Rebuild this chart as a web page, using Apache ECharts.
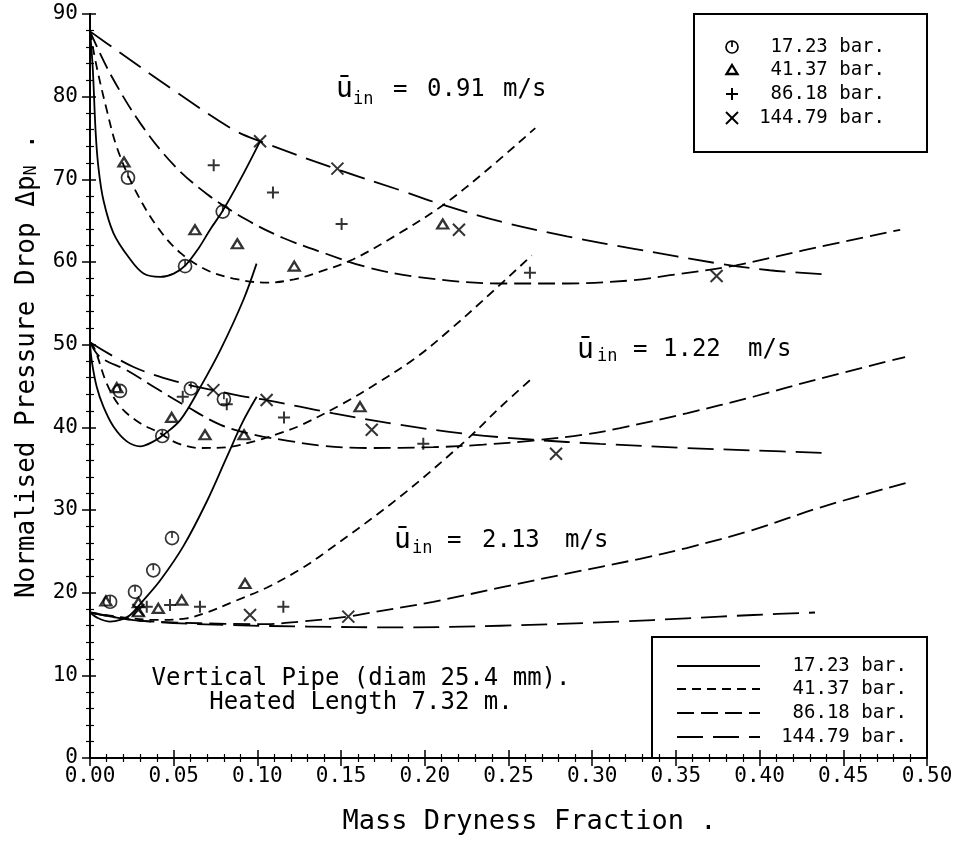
<!DOCTYPE html>
<html>
<head>
<meta charset="utf-8">
<script src="https://cdn.jsdelivr.net/npm/echarts@6/dist/echarts.min.js"></script>
<style>
  html, body { margin: 0; padding: 0; background: #fff; }
  #chart { width: 962px; height: 846px; }
</style>
</head>
<body>
<div id="chart"></div>
<script>
// Normalised pressure drop against mass dryness fraction, vertical pipe.
const pressures = ['17.23 bar.', '41.37 bar.', '86.18 bar.', '144.79 bar.'];
const inletVelocities = ['0.91', '1.22', '2.13'];

// Calculated curves, inlet velocity 0.91 m/s: [dryness, pressure drop]
const calc17_u091 = [[0,87.9],[0.0016,83.6],[0.0034,75.6],[0.005,71.5],[0.008,67.5],[0.014,63.5],[0.023,60.6],[0.032,58.6],[0.042,58.2],[0.050,58.6],[0.057,59.6],[0.065,61.7],[0.072,64.0],[0.079,66.1],[0.0896,69.9],[0.1016,74.6]];
const calc41_u091 = [[0,87.9],[0.004,83.6],[0.010,78.4],[0.016,73.9],[0.026,69.1],[0.040,64.3],[0.054,61.1],[0.070,59.0],[0.0857,58.0],[0.1055,57.5],[0.122,57.9],[0.137,58.8],[0.157,60.3],[0.185,63.5],[0.211,66.9],[0.237,71.1],[0.266,76.2]];
const calc86_u091 = [[0,87.9],[0.012,82.8],[0.030,76.8],[0.0497,71.8],[0.070,68.2],[0.0936,65.1],[0.1155,62.9],[0.141,61.0],[0.165,59.4],[0.195,58.2],[0.245,57.4],[0.285,57.4],[0.325,57.8],[0.3465,58.4],[0.386,59.6],[0.426,61.4],[0.484,63.9]];
const calc144_u091 = [[0,87.9],[0.016,85.6],[0.0498,80.8],[0.0857,76.0],[0.1016,74.6],[0.1478,71.2],[0.185,68.7],[0.211,66.9],[0.245,64.9],[0.285,63.1],[0.325,61.6],[0.376,59.8],[0.406,59.0],[0.439,58.5]];

// Calculated curves, inlet velocity 1.22 m/s
const calc17_u122 = [[0,50.3],[0.001,48.1],[0.004,44.9],[0.008,42.5],[0.014,40.1],[0.022,38.3],[0.030,37.7],[0.038,38.3],[0.044,39.1],[0.054,40.9],[0.066,44.9],[0.078,49.4],[0.0916,55.4],[0.0995,59.8]];
const calc41_u122 = [[0,50.3],[0.003,49.4],[0.010,45.3],[0.018,42.5],[0.030,40.5],[0.040,39.5],[0.052,38.1],[0.066,37.5],[0.082,37.6],[0.098,38.3],[0.1135,39.3],[0.1254,40.2],[0.1513,42.9],[0.1713,45.3],[0.1952,48.5],[0.215,51.8],[0.235,55.4],[0.2639,60.8]];
const calc86_u122 = [[0,50.3],[0.006,48.5],[0.022,46.9],[0.038,44.9],[0.058,42.5],[0.078,40.3],[0.098,39.1],[0.1175,38.4],[0.1374,37.8],[0.1653,37.5],[0.2051,37.6],[0.235,37.9],[0.2648,38.4],[0.2947,39.1],[0.3166,39.9],[0.3564,41.7],[0.3962,43.7],[0.4361,45.9],[0.4869,48.5]];
const calc144_u122 = [[0,50.3],[0.026,47.3],[0.0557,45.3],[0.0737,44.5],[0.0896,43.8],[0.1055,43.3],[0.1254,42.5],[0.1454,41.7],[0.1852,40.3],[0.225,39.2],[0.2648,38.5],[0.3047,38.0],[0.3564,37.5],[0.3962,37.2],[0.44,36.9]];

// Calculated curves, inlet velocity 2.13 m/s
const calc17_u213 = [[0,17.6],[0.005,16.9],[0.012,16.5],[0.018,16.7],[0.024,17.3],[0.032,19.1],[0.042,21.5],[0.0557,25.6],[0.0697,31.0],[0.0817,36.4],[0.0916,40.8],[0.0996,43.7]];
const calc41_u213 = [[0,17.6],[0.02,17.0],[0.04,16.7],[0.0578,16.9],[0.0697,17.6],[0.0856,18.9],[0.1055,20.6],[0.1254,22.8],[0.1414,25.0],[0.1852,31.6],[0.225,38.5],[0.2449,42.4],[0.2639,45.9]];
const calc86_u213 = [[0,17.6],[0.026,16.7],[0.066,16.3],[0.1055,16.2],[0.1254,16.5],[0.1543,17.1],[0.1653,17.5],[0.2051,18.9],[0.2449,20.6],[0.2848,22.3],[0.3286,24.1],[0.3564,25.4],[0.3962,27.6],[0.4361,30.3],[0.4879,33.3]];
const calc144_u213 = [[0,17.6],[0.03,16.6],[0.08,16.1],[0.13,15.9],[0.185,15.8],[0.245,16.0],[0.3166,16.5],[0.3564,16.9],[0.3962,17.3],[0.4331,17.6]];

// Measured points per pressure, all three inlet velocities
const meas17 = [[0.0227,70.2],[0.0568,59.5],[0.0793,66.1],
                [0.0179,44.4],[0.0432,38.95],[0.0603,44.7],[0.080,43.4],
                [0.012,18.9],[0.0269,20.1],[0.0378,22.7],[0.049,26.6]];
const meas41 = [[0.0203,72.1],[0.0627,63.9],[0.088,62.2],[0.122,59.5],[0.2107,64.6],
                [0.016,44.8],[0.0488,41.2],[0.0687,39.1],[0.092,39.1],[0.1613,42.5],
                [0.0095,19.0],[0.0289,18.8],[0.0289,17.7],[0.0408,18.1],[0.0548,19.1],[0.0926,21.1]];
const meas86 = [[0.0739,71.7],[0.1093,68.4],[0.1503,64.6],[0.2628,58.7],
                [0.0554,43.7],[0.0817,42.8],[0.1159,41.2],[0.1991,38.0],
                [0.0339,18.3],[0.0478,18.5],[0.0657,18.3],[0.1155,18.3]];
const meas144 = [[0.1016,74.6],[0.1478,71.3],[0.2204,63.9],[0.3743,58.3],
                 [0.0737,44.5],[0.1055,43.3],[0.1683,39.7],[0.2784,36.8],
                 [0.0289,17.9],[0.0956,17.3],[0.1543,17.1]];

const FONT = '"DejaVu Sans Mono", monospace';
const INK = '#000';

const curvesByPressure = [
  [calc17_u091, calc17_u122, calc17_u213],
  [calc41_u091, calc41_u122, calc41_u213],
  [calc86_u091, calc86_u122, calc86_u213],
  [calc144_u091, calc144_u122, calc144_u213]
];
const measuredByPressure = [meas17, meas41, meas86, meas144];

const dashPatterns = ['solid', [9, 6], [17, 7], [26, 10]];
const markerSymbols = [
  'path://M10,0 A10,10 0 1 1 10,20 A10,10 0 1 1 10,0 Z M10,0 L10,10',
  'path://M10,0 L20,16 L0,16 Z',
  'path://M10,0 L10,20 M0,10 L20,10',
  'path://M0,0 L20,20 M0,20 L20,0'
];
const markerSizes = [[13, 13], [11, 9], [12, 12], [12, 12]];
const markerWidths = [1.7, 2.3, 2, 2];

const series = [];
curvesByPressure.forEach((group, p) => {
  group.forEach((curve, v) => {
    series.push({
      type: 'line',
      name: pressures[p] + ' / ' + inletVelocities[v] + ' m/s',
      data: curve,
      showSymbol: false,
      smooth: 0.35,
      lineStyle: { color: INK, width: 1.8, type: dashPatterns[p] },
      silent: true,
      z: 2
    });
  });
});
measuredByPressure.forEach((pts, p) => {
  series.push({
    type: 'scatter',
    name: pressures[p],
    data: pts,
    symbol: markerSymbols[p],
    symbolSize: markerSizes[p],
    itemStyle: { color: 'rgba(0,0,0,0)', borderColor: INK, borderWidth: markerWidths[p] },
    silent: true,
    z: 3
  });
});

// ---- graphic annotations and keys ----
const graphics = [];
function txt(s, x, y, size, align) {
  graphics.push({
    type: 'text', x: x, y: y, silent: true,
    style: { text: s, font: size + 'px ' + FONT, fill: INK,
             textAlign: align || 'left', textVerticalAlign: 'middle' }
  });
}
function seg(x1, y1, x2, y2, w, dash) {
  graphics.push({
    type: 'line', silent: true,
    shape: { x1: x1, y1: y1, x2: x2, y2: y2 },
    style: { stroke: INK, lineWidth: w, lineDash: dash || null }
  });
}

// velocity labels: ū_in = v m/s
const velocityLabelPos = [
  { u: [336, 90], sub: [353, 100], eq: [393, 90], num: [427, 90], unit: [503, 90] },
  { u: [577, 351], sub: [597, 357], eq: [633, 350], num: [663, 350], unit: [748, 350] },
  { u: [394, 541], sub: [412, 549], eq: [447, 541], num: [482, 541], unit: [565, 541] }
];
velocityLabelPos.forEach((pos, i) => {
  txt('ū', pos.u[0], pos.u[1], 28);
  txt('in', pos.sub[0], pos.sub[1], 17);
  txt('=', pos.eq[0], pos.eq[1], 24);
  txt(inletVelocities[i], pos.num[0], pos.num[1], 24);
  txt('m/s', pos.unit[0], pos.unit[1], 24);
});

// test section description
txt('Vertical Pipe (diam 25.4 mm).', 361, 679, 24, 'center');
txt('Heated Length 7.32 m.', 361, 703, 24, 'center');

// key for measured points
graphics.push({ type: 'rect', silent: true, shape: { x: 694, y: 14, width: 233, height: 138 },
  style: { fill: 'none', stroke: INK, lineWidth: 2 } });
const keyRows1 = [47, 70, 94, 118];
const mx = 732;
graphics.push({ type: 'circle', silent: true, shape: { cx: mx, cy: keyRows1[0], r: 6 },
  style: { fill: 'none', stroke: INK, lineWidth: 1.7 } });
seg(mx, keyRows1[0] - 6, mx, keyRows1[0], 1.7);
graphics.push({ type: 'polygon', silent: true,
  shape: { points: [[mx, keyRows1[1] - 5], [mx + 5.5, keyRows1[1] + 4], [mx - 5.5, keyRows1[1] + 4]] },
  style: { fill: 'none', stroke: INK, lineWidth: 2.3 } });
seg(mx - 6, keyRows1[2], mx + 6, keyRows1[2], 2);
seg(mx, keyRows1[2] - 6, mx, keyRows1[2] + 6, 2);
seg(mx - 6, keyRows1[3] - 6, mx + 6, keyRows1[3] + 6, 2);
seg(mx - 6, keyRows1[3] + 6, mx + 6, keyRows1[3] - 6, 2);
keyRows1.forEach((y, i) => txt(pressures[i], 885, y, 19, 'right'));

// key for calculated curves
graphics.push({ type: 'rect', silent: true, shape: { x: 652, y: 637, width: 275, height: 121 },
  style: { fill: 'none', stroke: INK, lineWidth: 2 } });
const keyRows2 = [666, 689, 713, 737];
keyRows2.forEach((y, i) => {
  seg(677, y, 760, y, 1.8, dashPatterns[i] === 'solid' ? null : dashPatterns[i]);
  txt(pressures[i], 907, y, 19, 'right');
});

const axisLineStyle = { color: INK, width: 2 };
const tickStyle = { color: INK, width: 1.5 };
const minorStyle = { color: INK, width: 1.2 };

const option = {
  animation: false,
  backgroundColor: '#fff',
  grid: { left: 90, right: 35, top: 14, bottom: 88, containLabel: false },
  xAxis: [
    {
      type: 'value', position: 'bottom', min: 0, max: 0.5, interval: 0.05,
      axisLine: { show: true, lineStyle: axisLineStyle },
      axisTick: { show: true, inside: true, length: 8, lineStyle: tickStyle },
      minorTick: { show: true, splitNumber: 5, length: 4, lineStyle: minorStyle },
      splitLine: { show: false },
      axisLabel: { formatter: v => v.toFixed(2), fontFamily: FONT, fontSize: 21, color: INK, margin: 8 },
      name: 'Mass Dryness Fraction .',
      nameLocation: 'middle', nameGap: 50,
      nameTextStyle: { fontFamily: FONT, fontSize: 27, color: INK, padding: [0, 0, 0, 42] }
    },
    {
      type: 'value', position: 'top', min: 0, max: 0.5, interval: 0.05,
      axisLine: { show: true, lineStyle: axisLineStyle },
      axisTick: { show: true, inside: true, length: 8, lineStyle: tickStyle },
      minorTick: { show: true, splitNumber: 5, length: 4, lineStyle: minorStyle },
      splitLine: { show: false },
      axisLabel: { show: false }
    }
  ],
  yAxis: [
    {
      type: 'value', position: 'left', min: 0, max: 90, interval: 10,
      axisLine: { show: true, lineStyle: axisLineStyle },
      axisTick: { show: true, inside: false, length: 7, lineStyle: tickStyle },
      minorTick: { show: false },
      splitLine: { show: false },
      axisLabel: { fontFamily: FONT, fontSize: 21, color: INK, margin: 12 },
      name: '{a|Normalised Pressure Drop Δp}{s|N}{a| .}',
      nameLocation: 'middle', nameRotate: 90, nameGap: 50,
      nameTextStyle: {
        padding: [0, 0, 0, 40],
        rich: {
          a: { fontFamily: FONT, fontSize: 26, color: INK, verticalAlign: 'bottom' },
          s: { fontFamily: FONT, fontSize: 17, color: INK, verticalAlign: 'bottom', padding: [14, 0, 0, 0] }
        }
      }
    },
    {
      type: 'value', position: 'right', min: 0, max: 90, interval: 10,
      axisLine: { show: true, lineStyle: axisLineStyle },
      axisTick: { show: true, inside: true, length: 8, lineStyle: tickStyle },
      minorTick: { show: true, splitNumber: 5, length: 4, lineStyle: minorStyle },
      splitLine: { show: false },
      axisLabel: { show: false }
    },
    {
      type: 'value', position: 'left', min: 0, max: 90, interval: 10,
      axisLine: { show: false },
      axisTick: { show: true, inside: true, length: 6, lineStyle: tickStyle },
      minorTick: { show: true, splitNumber: 5, length: 4, lineStyle: minorStyle },
      splitLine: { show: false },
      axisLabel: { show: false }
    }
  ],
  graphic: graphics,
  series: series
};

const chart = echarts.init(document.getElementById('chart'), null, { renderer: 'canvas' });
chart.setOption(option);
</script>
</body>
</html>
